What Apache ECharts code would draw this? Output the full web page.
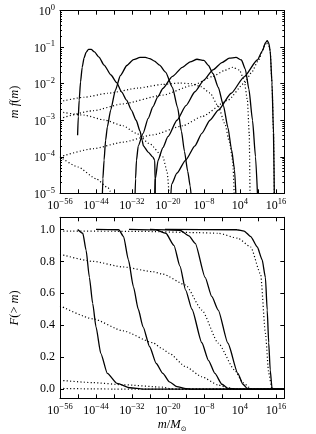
<!DOCTYPE html>
<html><head><meta charset="utf-8">
<script src="https://cdn.jsdelivr.net/npm/echarts@6/dist/echarts.min.js"></script>
<style>html,body{margin:0;padding:0;background:#fff}#c{width:316px;height:434px}</style>
</head><body><div id="c"></div>
<script>
// x values are log10(m/Msun); top-panel y values are log10(m f(m))
const xTickValues = [-56,-50,-44,-38,-32,-26,-20,-14,-8,-2,4,10,16];
const xLabelValues = [-56,-44,-32,-20,-8,4,16];
const yTopTickValues = [-5,-4,-3,-2,-1,0];
const yBotTickValues = [0,0.2,0.4,0.6,0.8,1.0];

const solidTop1 = [[-50.13,-3.41],[-49.9,-2.9],[-49.6,-2.45],[-49.15,-1.95],[-48.6,-1.55],[-48.0,-1.3],[-47.3,-1.14],[-46.5,-1.06],[-45.6,-1.06],[-44.5,-1.13],[-43.0,-1.27],[-41.3,-1.49],[-39.0,-1.76],[-37.1,-1.97],[-35.4,-2.23],[-33.8,-2.45],[-32.2,-2.72],[-30.6,-3.0],[-29.3,-3.3],[-28.6,-3.55],[-28.2,-3.7],[-26.6,-3.87],[-25.0,-4.01],[-24.4,-4.1],[-24.3,-4.6],[-24.25,-5.3]];
const solidTop2 = [[-41.95,-5.3],[-41.7,-4.6],[-41.3,-4.09],[-40.8,-3.55],[-40.2,-3.18],[-39.1,-2.72],[-37.5,-2.17],[-35.9,-1.78],[-33.7,-1.5],[-31.5,-1.34],[-29.3,-1.28],[-27.5,-1.28],[-26.1,-1.31],[-24.5,-1.38],[-22.8,-1.49],[-20.8,-1.68],[-18.5,-2.1],[-16.8,-2.65],[-15.5,-3.3],[-14.5,-3.85],[-13.4,-4.4],[-12.6,-4.8],[-12.0,-5.3]];
const solidTop3 = [[-31.05,-5.3],[-30.8,-4.6],[-30.5,-4.1],[-29.9,-3.7],[-28.3,-3.36],[-26.6,-2.95],[-25.0,-2.63],[-23.4,-2.36],[-21.7,-2.13],[-18.5,-1.8],[-15.2,-1.55],[-12.6,-1.4],[-10.3,-1.33],[-8.0,-1.36],[-6.5,-1.5],[-5.0,-1.72],[-3.2,-2.1],[-1.5,-2.6],[0.0,-3.2],[1.2,-3.8],[2.2,-4.35],[2.8,-5.3]];
const solidTop4 = [[-24.5,-5.3],[-24.2,-4.6],[-23.3,-4.1],[-21.7,-3.75],[-20,-3.45],[-17,-3.0],[-14,-2.6],[-11,-2.22],[-8,-1.9],[-5,-1.62],[-2,-1.42],[0.5,-1.3],[2.7,-1.28],[4.5,-1.35],[5.8,-1.6],[7.0,-2.15],[8.2,-3.0],[9.2,-4.0],[10.0,-5.3]];
const solidTop5 = [[-19.2,-5.3],[-18.8,-4.75],[-17,-4.45],[-14.1,-4.09],[-11,-3.7],[-8.7,-3.36],[-6,-3.0],[-3.2,-2.72],[1.1,-2.26],[5.4,-1.81],[9.8,-1.35],[11.5,-1.1],[12.5,-0.88],[13.1,-0.82],[13.6,-0.88],[14.1,-1.1],[14.7,-1.99],[15.2,-3.36],[15.5,-5.3]];
const dottedTop1 = [[-56,-2.49],[-48,-2.37],[-40,-2.26],[-30,-2.12],[-22,-2.02],[-16,-1.98],[-12,-2.0],[-9,-2.08],[-6,-2.25],[-3.2,-2.62],[-1,-3.1],[0.5,-3.6],[1.6,-4.1],[2.2,-5.3]];
const dottedTop2 = [[-56,-2.77],[-48,-2.86],[-41.3,-2.99],[-35,-3.15],[-30.5,-3.36],[-26,-3.65],[-21.7,-4.0],[-20.3,-4.4],[-19.4,-5.3]];
const dottedTop3 = [[-56,-2.95],[-45,-2.74],[-35,-2.55],[-21.7,-2.31],[-12,-2.05],[-5,-1.8],[-1,-1.63],[1.6,-1.55],[3.8,-1.62],[5.4,-1.9],[6.5,-2.45],[7.1,-3.36],[7.4,-5.3]];
const dottedTop4 = [[-56,-4.0],[-45,-3.78],[-35,-3.6],[-25,-3.4],[-15,-3.15],[-8.7,-2.9],[0,-2.45],[5.4,-1.99],[8,-1.68],[10,-1.38],[12.5,-0.92],[13.1,-0.86],[13.6,-0.92],[14.1,-1.12],[14.7,-2.0],[15.2,-3.36],[15.5,-5.3]];
const dottedTop5 = [[-56,-4.0],[-50,-4.28],[-44,-4.6],[-40,-4.85],[-37.5,-5.3]];

const solidBot1 = [[-50.1,1.0],[-48.4,0.976],[-47.3,0.87],[-46.2,0.70],[-45.1,0.537],[-44.0,0.39],[-42.4,0.224],[-40.2,0.098],[-37.0,0.036],[-32.6,0.008],[-28.3,0.0],[18.8,0]];
const solidBot2 = [[-44,1.0],[-36.4,0.998],[-34.8,0.955],[-33.2,0.81],[-31.5,0.64],[-29.9,0.5],[-28.3,0.39],[-26.1,0.265],[-23.9,0.16],[-21.7,0.098],[-19.5,0.045],[-17,0.015],[-14,0.003],[-12,0],[18.8,0]];
const solidBot3 = [[-33,1.0],[-24,0.997],[-20.7,0.976],[-18,0.9],[-16,0.77],[-14.1,0.62],[-12,0.5],[-8.7,0.29],[-6.5,0.18],[-4.35,0.098],[-2,0.03],[0,0.004],[2.7,0],[18.8,0]];
const solidBot4 = [[-26,1.0],[-16,0.995],[-13,0.96],[-10.9,0.913],[-7.6,0.70],[-5.4,0.58],[-3.24,0.495],[0,0.287],[3.3,0.098],[5,0.03],[6.5,0.004],[8,0],[18.8,0]];
const solidBot5 = [[-21,1.0],[3,0.998],[5.4,0.99],[7.6,0.955],[9.8,0.89],[11.4,0.81],[12.5,0.70],[13.1,0.495],[13.6,0.29],[14.1,0.12],[14.7,0.005],[15.5,0],[18.8,0]];
const dottedBot1 = [[-56,0.522],[-45,0.44],[-35,0.365],[-25,0.29],[-21.7,0.25],[-19.6,0.224],[-14.1,0.14],[-8.7,0.077],[-3.2,0.025],[0,0.008],[2.2,0.0],[18.8,0]];
const dottedBot2 = [[-56,0.055],[-45,0.04],[-35,0.027],[-21.7,0.012],[-19,0.002],[-17,0],[18.8,0]];
const dottedBot3 = [[-56,0.845],[-45,0.8],[-35,0.765],[-25,0.735],[-21.7,0.72],[-14.1,0.652],[-8.7,0.495],[-3.2,0.287],[2.2,0.12],[5,0.04],[7.6,0.004],[8,0],[18.8,0]];
const dottedBot4 = [[-56,0.99],[-30,0.988],[-10,0.98],[-3.2,0.976],[3.3,0.945],[7.6,0.89],[10.9,0.72],[12.5,0.35],[13.6,0.1],[14.7,0],[18.8,0]];
const dottedBot5 = [[-56,0.004],[-45,0.001],[-38,0],[18.8,0]];

const FONT = 'Liberation Serif';
const minus = v => (v < 0 ? '\u2212' + (-v) : '' + v);
const powLabel = v => '{b|10}{e|' + minus(v) + '}';
const powRich = {
  b: {fontFamily: FONT, fontSize: 12, color: '#000', lineHeight: 15, verticalAlign: 'bottom'},
  e: {fontFamily: FONT, fontSize: 8.5, color: '#000', lineHeight: 9, verticalAlign: 'top'}
};
const yMinor = [];
for (let n = -5; n < 0; n++) for (let k = 2; k <= 9; k++) yMinor.push(n + Math.log10(k));

const XMIN = -56, XMAX = 18.8;
const TOPMIN = -5, TOPMAX = 0;
const BOTMIN = -0.058, BOTMAX = 1.076;

function xAx(grid, pos, labels, extra) {
  return Object.assign({
    type: 'value', gridIndex: grid, position: pos, min: XMIN, max: XMAX,
    axisLine: {show: true, onZero: false, lineStyle: {color: '#000', width: 1}},
    axisTick: {show: true, inside: true, length: 4, customValues: xTickValues, lineStyle: {color: '#000', width: 1}},
    axisLabel: labels ? {show: true, customValues: xLabelValues, formatter: powLabel, rich: powRich, margin: 4} : {show: false},
    splitLine: {show: false}
  }, extra || {});
}
function yAx(grid, pos, min, max, ticks, len, labelOpt, extra) {
  return Object.assign({
    type: 'value', gridIndex: grid, position: pos, min: min, max: max,
    axisLine: {show: true, onZero: false, lineStyle: {color: '#000', width: 1}},
    axisTick: {show: true, inside: true, length: len, customValues: ticks, lineStyle: {color: '#000', width: 1}},
    axisLabel: labelOpt || {show: false},
    splitLine: {show: false}
  }, extra || {});
}

const chart = echarts.init(document.getElementById('c'), null, {renderer: 'canvas'});
const solid = {color: '#000', width: 1.3, type: 'solid'};
const dotted = {color: '#000', width: 1.2, type: [1.1, 2.3]};
function ser(data, xi, yi, style) {
  return {type: 'line', data: data, xAxisIndex: xi, yAxisIndex: yi, showSymbol: false, symbol: 'none',
    lineStyle: style, smooth: 0.2, smoothMonotone: 'x', animation: false, silent: true, clip: true};
}

chart.setOption({
  animation: false,
  backgroundColor: '#fff',
  grid: [
    {left: 55, top: 10.7, width: 229.3, height: 182.6},
    {left: 55, top: 217.3, width: 229.3, height: 181}
  ],
  xAxis: [
    xAx(0, 'bottom', true),
    xAx(0, 'top', false),
    xAx(1, 'bottom', true, {name: '{i|m}{r|/}{i|M}{s|\u2299}', nameLocation: 'middle', nameGap: 20,
      nameTextStyle: {rich: {
        i: {fontFamily: FONT, fontSize: 12.5, fontStyle: 'italic', color: '#000', lineHeight: 14, verticalAlign: 'top'},
        r: {fontFamily: FONT, fontSize: 12.5, color: '#000', lineHeight: 14, verticalAlign: 'top'},
        s: {fontFamily: 'DejaVu Sans', fontSize: 7, color: '#000', lineHeight: 8, verticalAlign: 'bottom'}
      }}}),
    xAx(1, 'top', false)
  ],
  yAxis: [
    yAx(0, 'left', TOPMIN, TOPMAX, yTopTickValues, 4,
      {show: true, customValues: yTopTickValues, formatter: powLabel, rich: powRich, margin: 5},
      {name: '{i|m f}{r|(}{i|m}{r|)}', nameLocation: 'middle', nameGap: 39, nameRotate: 90,
        nameTextStyle: {rich: {
          i: {fontFamily: FONT, fontSize: 12.5, fontStyle: 'italic', color: '#000'},
          r: {fontFamily: FONT, fontSize: 12.5, color: '#000'}
        }}}),
    yAx(0, 'left', TOPMIN, TOPMAX, yMinor, 2),
    yAx(0, 'right', TOPMIN, TOPMAX, yTopTickValues, 4),
    yAx(0, 'right', TOPMIN, TOPMAX, yMinor, 2),
    yAx(1, 'left', BOTMIN, BOTMAX, yBotTickValues, 4,
      {show: true, customValues: yBotTickValues, formatter: v => v.toFixed(1), fontFamily: FONT, fontSize: 12, color: '#000', margin: 5},
      {name: '{i|F}{r|(> }{i|m}{r|)}', nameLocation: 'middle', nameGap: 39, nameRotate: 90,
        nameTextStyle: {rich: {
          i: {fontFamily: FONT, fontSize: 12.5, fontStyle: 'italic', color: '#000'},
          r: {fontFamily: FONT, fontSize: 12.5, color: '#000'}
        }}}),
    yAx(1, 'right', BOTMIN, BOTMAX, yBotTickValues, 4)
  ],
  series: [
    ser(dottedTop1, 0, 0, dotted), ser(dottedTop2, 0, 0, dotted), ser(dottedTop3, 0, 0, dotted),
    ser(dottedTop4, 0, 0, dotted), ser(dottedTop5, 0, 0, dotted),
    ser(solidTop1, 0, 0, solid), ser(solidTop2, 0, 0, solid), ser(solidTop3, 0, 0, solid),
    ser(solidTop4, 0, 0, solid), ser(solidTop5, 0, 0, solid),
    ser(dottedBot1, 2, 4, dotted), ser(dottedBot2, 2, 4, dotted), ser(dottedBot3, 2, 4, dotted),
    ser(dottedBot4, 2, 4, dotted), ser(dottedBot5, 2, 4, dotted),
    ser(solidBot1, 2, 4, solid), ser(solidBot2, 2, 4, solid), ser(solidBot3, 2, 4, solid),
    ser(solidBot4, 2, 4, solid), ser(solidBot5, 2, 4, solid)
  ]
});
</script></body></html>
